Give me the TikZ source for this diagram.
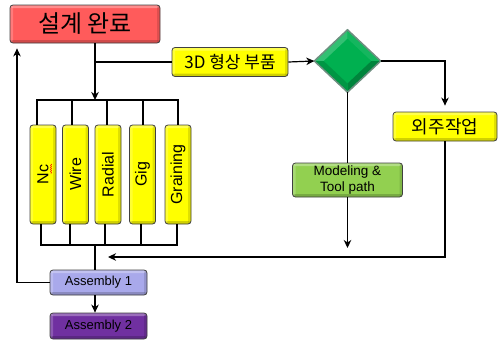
\documentclass[tikz,border=0pt]{standalone}
\usepackage{fontspec}
\setmainfont{Liberation Sans}
\newfontfamily\kr{Noto Sans CJK KR}
\usetikzlibrary{shapes.geometric,arrows.meta,decorations.pathmorphing,calc}

\definecolor{titlered}{HTML}{FF5B5B}
\definecolor{yel}{HTML}{FFFF00}
\definecolor{mgreen}{HTML}{92D050}
\definecolor{lav}{HTML}{A9A9EB}
\definecolor{purp}{HTML}{7030A0}
\definecolor{dgreen}{HTML}{00B050}
\definecolor{dborder}{HTML}{6D8F80}

\tikzset{
  bevel/.style={path picture={
    \fill[white,opacity=.30] (path picture bounding box.north west) rectangle ([yshift=-3pt]path picture bounding box.north east);
    \fill[white,opacity=.20] (path picture bounding box.north west) rectangle ([xshift=3pt]path picture bounding box.south west);
    \fill[black,opacity=.18] ([yshift=3pt]path picture bounding box.south west) rectangle (path picture bounding box.south east);
    \fill[black,opacity=.12] ([xshift=-3pt]path picture bounding box.north east) rectangle (path picture bounding box.south east);
  }},
  box/.style={rectangle, rounded corners=3pt, draw=black!75, line width=0.8pt, inner sep=0pt, bevel},
  colbox/.style={box, fill=yel, minimum width=26pt, minimum height=99pt, font=\fontsize{16}{18}\selectfont},
  wire/.style={line width=1.2pt},
  arr/.style={wire, -{Stealth[length=8pt,width=7.5pt,inset=2.5pt]}},
}

\begin{document}
\begin{tikzpicture}[x=1pt,y=-1pt]
\useasboundingbox (0,0) rectangle (499,340);

% process boxes
\node[box, fill=titlered, minimum width=150pt, minimum height=38pt,
      font=\kr\fontsize{24}{26}\selectfont] (title) at (85,24) {설계 완료};
\node[box, fill=yel, minimum width=116pt, minimum height=29pt,
      font=\kr\fontsize{17}{19}\selectfont] (td) at (230,62) {3D 형상 부품};
\node[box, fill=yel, minimum width=104pt, minimum height=29pt,
      font=\kr\fontsize{18}{20}\selectfont] (ojoo) at (445,126.5) {외주작업};
\node[box, fill=mgreen, minimum width=110pt, minimum height=34pt, align=center,
      font=\fontsize{13.5}{15.5}\selectfont] (mod) at (347.5,180) {Modeling \&\\Tool path};

% decision diamond with bevelled faces
\node[diamond, aspect=1, minimum width=66pt, minimum height=62pt, inner sep=0pt,
      fill=dgreen] (dia) at (347.5,61) {};
\coordinate (iN) at ($(dia.center)!0.72!(dia.north)$);
\coordinate (iS) at ($(dia.center)!0.72!(dia.south)$);
\coordinate (iE) at ($(dia.center)!0.72!(dia.east)$);
\coordinate (iW) at ($(dia.center)!0.72!(dia.west)$);
\fill[dgreen!80!white] (dia.west) -- (dia.north) -- (iN) -- (iW) -- cycle;
\fill[dgreen!92!white] (dia.north) -- (dia.east) -- (iE) -- (iN) -- cycle;
\fill[dgreen!75!black] (dia.east) -- (dia.south) -- (iS) -- (iE) -- cycle;
\fill[dgreen!85!black] (dia.south) -- (dia.west) -- (iW) -- (iS) -- cycle;
\draw[dborder, line width=1.5pt] (dia.west) -- (dia.north) -- (dia.east) -- (dia.south) -- cycle;

% parallel operations
\node[colbox] (nc) at (43,174.5) {\rotatebox{90}{Nc}};
\node[colbox] (wi) at (75.5,174.5) {\rotatebox{90}{Wire}};
\node[colbox] (ra) at (108,174.5) {\rotatebox{90}{Radial}};
\node[colbox] (gi) at (142.5,174.5) {\rotatebox{90}{Gig}};
\node[colbox] (gr) at (178,174.5) {\rotatebox{90}{Graining}};
\draw[red, line width=0.4pt, decorate, decoration={snake, amplitude=0.6pt, segment length=2pt}]
  (51,164) -- (51,174);

% assembly
\node[box, fill=lav, minimum width=97pt, minimum height=25pt,
      font=\fontsize{13}{15}\selectfont] (a1) at (98.5,282.5) {Assembly 1};
\node[box, fill=purp, minimum width=97pt, minimum height=26pt,
      font=\fontsize{13}{15}\selectfont] (a2) at (98.5,326) {Assembly 2};

% junctions and free ends
\coordinate (tb) at (95,100);
\coordinate (bb) at (95,245);
\coordinate (br) at (95,62);
\coordinate (lp) at (17,282.5);
\coordinate (me) at (347.5,248);
\coordinate (rt) at (108,257);

% connectors
\draw[arr] (title.south -| tb) -- (tb);
\draw[wire] (br) -- (td.west);
\draw[wire] ([xshift=-6pt]nc.north) |- (gr.north |- tb) -- (gr.north);
\draw[wire] ([xshift=-3.5pt]wi.north) -- ([xshift=-3.5pt]wi.north |- tb);
\draw[wire] ([xshift=-1pt]ra.north) -- ([xshift=-1pt]ra.north |- tb);
\draw[wire] ([xshift=0.5pt]gi.north) -- ([xshift=0.5pt]gi.north |- tb);

\draw[wire] ([xshift=-2pt]nc.south) |- ([xshift=-1pt]gr.south |- bb) -- ([xshift=-1pt]gr.south);
\draw[wire] ([xshift=-5.5pt]wi.south) -- ([xshift=-5.5pt]wi.south |- bb);
\draw[wire] ([xshift=-3pt]ra.south) -- ([xshift=-3pt]ra.south |- bb);
\draw[wire] ([xshift=-1.5pt]gi.south) -- ([xshift=-1.5pt]gi.south |- bb);
\draw[wire] (bb) -- (a1.north -| bb);

\draw[arr] (a1.south -| bb) -- (a2.north -| bb);
\draw[arr] (a1.west) -| ([yshift=-5pt]title.south -| lp);

\draw[arr] (td.east) -- (dia.west);
\draw[arr, shorten >=6pt] (dia.east) -| (ojoo.north);
\draw[wire] (dia.south) -- (mod.north);
\draw[arr] (mod.south) -- (me);
\draw[arr] (ojoo.south) |- (rt);
\end{tikzpicture}
\end{document}
